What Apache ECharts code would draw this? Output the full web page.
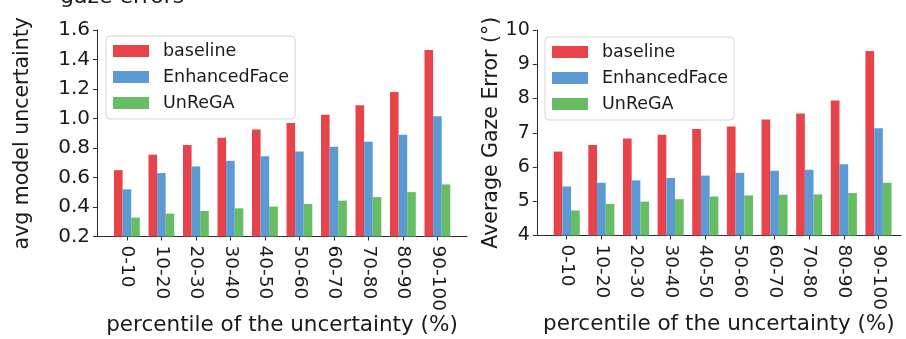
<!DOCTYPE html>
<html><head><meta charset="utf-8">
<script src="https://cdn.jsdelivr.net/npm/echarts@6/dist/echarts.min.js"></script>
<style>html,body{margin:0;padding:0;background:#fff}#c{width:906px;height:339px}</style>
</head><body><div id="c"></div>
<script>
const categories = ['0-10','10-20','20-30','30-40','40-50','50-60','60-70','70-80','80-90','90-100'];
const seriesNames = ['baseline','EnhancedFace','UnReGA'];
const uncBaseline = [0.65,0.755,0.82,0.87,0.925,0.97,1.025,1.09,1.18,1.465];
const uncEnhanced = [0.52,0.63,0.675,0.713,0.744,0.776,0.808,0.843,0.89,1.015];
const uncUnrega   = [0.328,0.355,0.373,0.391,0.403,0.42,0.443,0.467,0.501,0.553];
const errBaseline = [6.45,6.64,6.83,6.94,7.11,7.18,7.39,7.56,7.94,9.39];
const errEnhanced = [5.43,5.54,5.61,5.68,5.75,5.83,5.89,5.92,6.08,7.13];
const errUnrega   = [4.73,4.92,4.99,5.06,5.14,5.17,5.19,5.20,5.24,5.54];
const uncAxis = {min:0.2, max:1.6, interval:0.2};
const errAxis = {min:4, max:10, interval:1};
const xTitle = 'percentile of the uncertainty (%)';
const yTitleLeft = 'avg model uncertainty';
const yTitleRight = 'Average Gaze Error (°)';
const topText = 'gaze errors';

const FONT = 'DejaVu Sans';
const INK = '#1a1a1a';
const AX = '#2a2a2a';
const colors = ['#e6434b','#5b9ad2','#66bd63'];

const chart = echarts.init(document.getElementById('c'), null, {renderer:'canvas'});

function frameX(grid){
  return {gridIndex:grid, type:'value', min:0, max:1,
    axisLine:{show:true, lineStyle:{color:AX, width:1}},
    axisTick:{show:false}, axisLabel:{show:false}, splitLine:{show:false},
    name:xTitle, nameLocation:'middle', nameGap:78,
    nameTextStyle:{fontSize:21.5, color:INK, fontFamily:FONT}};
}
function barX(grid){
  return {gridIndex:grid, type:'category', data:categories,
    axisLine:{show:false},
    axisTick:{show:true, alignWithLabel:true, length:4, lineStyle:{color:AX}},
    axisLabel:{rotate:-90, margin:9, fontSize:18.5, color:INK, fontFamily:FONT, interval:0}};
}
function frameY(grid, ax, title, gap, fmt, fs){
  return {gridIndex:grid, type:'value', min:ax.min, max:ax.max, interval:ax.interval,
    axisLine:{show:true, lineStyle:{color:AX, width:1}},
    axisTick:{show:true, length:4, lineStyle:{color:AX}},
    axisLabel:{formatter:fmt, fontSize:fs, margin:7, color:INK, fontFamily:FONT},
    splitLine:{show:false},
    name:title, nameLocation:'middle', nameGap:gap, nameRotate:90,
    nameTextStyle:{fontSize:20.5, color:INK, fontFamily:FONT}};
}
function hiddenY(grid, ax){
  return {gridIndex:grid, type:'value', min:ax.min, max:ax.max, show:false, splitLine:{show:false}};
}
function legend(left, top){
  return {orient:'vertical', left:left, top:top, data:seriesNames, icon:'rect',
    itemWidth:36, itemHeight:12, itemGap:8, padding:[6,6,7,7],
    backgroundColor:'#fff', borderColor:'#d4d4d4', borderWidth:1, borderRadius:4,
    selectedMode:false,
    textStyle:{fontSize:17.5, lineHeight:18, color:INK, fontFamily:FONT, padding:[0,0,0,9]}};
}
function bars(name, data, xi, color, bw){
  return {type:'bar', name:name, data:data, xAxisIndex:xi, yAxisIndex:xi,
    barWidth:bw, barGap:'0%', itemStyle:{color:color}};
}
function grid(l, r, b){
  return {left:l, right:r, top:30, bottom:b, outerBoundsMode:'none', containLabel:false};
}

chart.setOption({
  animation:false,
  textStyle:{fontFamily:FONT},
  grid:[
    grid(97, 439, 102.5),
    grid(109.65, 451.35, 102.5),
    grid(536.8, 5, 103.5),
    grid(549.4, 10.2, 103.5)
  ],
  xAxis:[frameX(0), barX(1), frameX(2), barX(3)],
  yAxis:[
    frameY(0, uncAxis, yTitleLeft, 64, v=>v.toFixed(1), 20),
    hiddenY(1, uncAxis),
    frameY(2, errAxis, yTitleRight, 35, v=>String(Math.round(v)), 19),
    hiddenY(3, errAxis)
  ],
  legend:[legend(106,36), legend(545,37)],
  series:[
    bars(seriesNames[0], uncBaseline, 1, colors[0], 8.6),
    bars(seriesNames[1], uncEnhanced, 1, colors[1], 8.6),
    bars(seriesNames[2], uncUnrega, 1, colors[2], 8.6),
    bars(seriesNames[0], errBaseline, 3, colors[0], 8.7),
    bars(seriesNames[1], errEnhanced, 3, colors[1], 8.7),
    bars(seriesNames[2], errUnrega, 3, colors[2], 8.7)
  ],
  graphic:[{type:'text', left:60, top:-14, style:{text:topText, fontSize:22, fill:INK, fontFamily:FONT}}]
});
</script></body></html>
